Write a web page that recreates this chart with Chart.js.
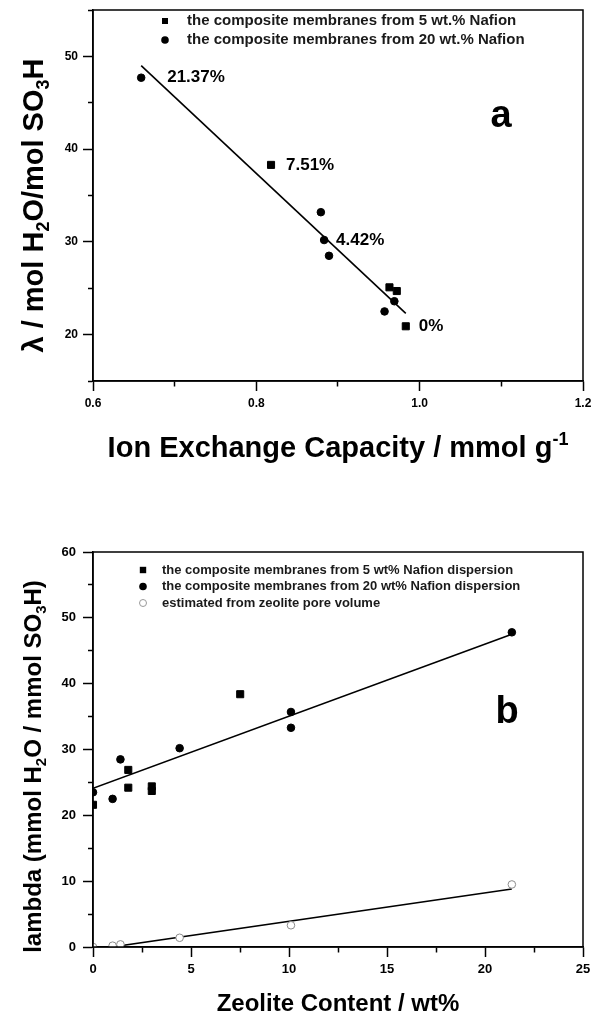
<!DOCTYPE html>
<html>
<head>
<meta charset="utf-8">
<script src="https://cdn.jsdelivr.net/npm/chart.js@4.4.1/dist/chart.umd.min.js"></script>
<style>
  html, body { margin: 0; padding: 0; background: #fff; }
  #wrap { position: relative; width: 603px; height: 1017px; }
  canvas { position: absolute; left: 0; }
  #chartA { top: 0; }
  #chartB { top: 490px; }
</style>
</head>
<body>
<div id="wrap">
  <canvas id="chartA" width="603" height="490"></canvas>
  <canvas id="chartB" width="603" height="527"></canvas>
</div>
<script>
// panel a: lambda against ion exchange capacity
const iec5 = [0.818, 0.963, 0.972, 0.983];
const lambdaIec5 = [38.3, 25.1, 24.7, 20.9];
const iec20 = [0.659, 0.879, 0.883, 0.889, 0.969, 0.957];
const lambdaIec20 = [47.7, 33.2, 30.2, 28.5, 23.6, 22.5];
const iecFit = [0.659, 0.983];
const lambdaIecFit = [49.0, 22.3];
const iecNotes = ['21.37%', '7.51%', '4.42%', '0%'];
const iecNoteX = [0.659, 0.818, 0.883, 0.983];
const iecNoteY = [47.7, 38.3, 30.2, 20.9];
const xTicksA = [0.6, 0.8, 1.0, 1.2];
const yTicksA = [20, 30, 40, 50];

// panel b: lambda against zeolite content
const zeo5 = [0, 1.8, 1.8, 3.0, 3.0, 7.51];
const lambdaZeo5 = [21.6, 26.9, 24.2, 24.4, 23.7, 38.4];
const zeo20 = [0, 1.0, 1.4, 4.42, 10.1, 10.1, 21.37];
const lambdaZeo20 = [23.5, 22.5, 28.5, 30.2, 35.7, 33.3, 47.8];
const zeoPore = [0, 1.0, 1.4, 4.42, 10.1, 21.37];
const lambdaPore = [0, 0.2, 0.4, 1.4, 3.3, 9.5];
const zeoFit = [0, 21.37];
const lambdaZeoFit = [24.1, 47.5];
const zeoPoreFit = [0.95, 21.37];
const lambdaPoreFit = [0, 8.8];
const xTicksB = [0, 5, 10, 15, 20, 25];
const yTicksB = [0, 10, 20, 30, 40, 50, 60];

const sans = '"Liberation Sans", Arial, Helvetica, sans-serif';
const pts = (xs, ys) => xs.map((v, i) => ({x: v, y: ys[i]}));
const near = (list, v) => list.some(t => Math.abs(t - v) < 1e-6);

function drawMarker(ctx, m, x, y) {
  ctx.save();
  ctx.beginPath();
  if (m.style === 'rect') ctx.rect(x - m.r, y - m.r, 2 * m.r, 2 * m.r);
  else ctx.arc(x, y, m.r, 0, Math.PI * 2);
  ctx.fillStyle = m.fill;
  ctx.fill();
  if (m.stroke) { ctx.strokeStyle = m.stroke; ctx.lineWidth = 1; ctx.stroke(); }
  ctx.restore();
}

// text with sub (1) and superscript (-1) parts, centred on x
function drawRich(ctx, parts, size, x, y, rot) {
  ctx.save();
  ctx.translate(x, y);
  ctx.rotate(rot);
  ctx.textAlign = 'left';
  ctx.textBaseline = 'alphabetic';
  ctx.fillStyle = '#000';
  const fonts = parts.map(p => `bold ${p[1] ? Math.round(size * 0.62) : size}px ${sans}`);
  const widths = parts.map((p, i) => { ctx.font = fonts[i]; return ctx.measureText(p[0]).width; });
  let cx = -widths.reduce((s, w) => s + w, 0) / 2;
  parts.forEach((p, i) => {
    ctx.font = fonts[i];
    ctx.fillText(p[0], cx, p[1] > 0 ? size * 0.22 : p[1] * size * 0.42);
    cx += widths[i];
  });
  ctx.restore();
}

function makeExtras(cfg) {
  return {
    id: 'extras',
    afterDraw(chart) {
      const {ctx, chartArea: a, scales: {x, y}} = chart;
      ctx.save();
      ctx.strokeStyle = '#000';
      ctx.lineWidth = 1.5;
      ctx.strokeRect(a.left, a.top, a.right - a.left, a.bottom - a.top);

      ctx.textAlign = 'left';
      ctx.textBaseline = 'middle';
      ctx.font = `bold ${cfg.legendFont}px ${sans}`;
      cfg.legend.forEach((item, i) => {
        const lx = a.left + cfg.legendX;
        const ly = a.top + cfg.legendY + i * cfg.legendGap;
        drawMarker(ctx, item, lx, ly);
        ctx.fillStyle = '#1a1a1a';
        ctx.fillText(item.text, lx + cfg.legendTextX, ly);
      });

      ctx.fillStyle = '#000';
      ctx.font = `bold ${cfg.noteFont}px ${sans}`;
      cfg.notes.forEach((n, i) => {
        ctx.fillText(n.text, x.getPixelForValue(n.x) + cfg.noteDx[i], y.getPixelForValue(n.y));
      });

      ctx.textAlign = 'center';
      ctx.textBaseline = 'alphabetic';
      ctx.font = `bold ${cfg.letterFont}px ${sans}`;
      ctx.fillText(cfg.letter, a.right + cfg.letterX, a.top + cfg.letterY);

      drawRich(ctx, cfg.xTitle, cfg.titleSize, (a.left + a.right) / 2, a.bottom + cfg.xTitleY, 0);
      drawRich(ctx, cfg.yTitle, cfg.titleSize, cfg.yTitleX, (a.top + a.bottom) / 2 + cfg.yTitleDy, -Math.PI / 2);
      ctx.restore();
    }
  };
}

function axis(min, max, step, labels, fmt, pad, size, isY, fitSize) {
  return {
    type: 'linear', min, max,
    ticks: {
      stepSize: step, padding: pad, color: '#000', autoSkip: false, maxRotation: 0,
      font: {family: sans, size, weight: 'bold'},
      callback: v => near(labels, v) ? fmt(v) : ''
    },
    grid: {
      drawOnChartArea: false, tickLength: 10, tickColor: '#000', tickWidth: 1.5,
      tickBorderDash: c => near(labels, c.tick.value) ? [] : (isY ? [0, 5, 5, 100] : [5, 100])
    },
    border: {color: '#000', width: 1.5},
    afterFit: s => {
      if (isY) s.width = fitSize; else s.height = fitSize;
      s.paddingLeft = 0; s.paddingRight = 0; s.paddingTop = 0; s.paddingBottom = 0;
    }
  };
}

function dots(data, style, r, fill, stroke, clip) {
  return {data, showLine: false, pointStyle: style, pointRadius: r,
    pointBackgroundColor: fill, pointBorderColor: stroke, pointBorderWidth: 1, clip};
}
function fitLine(data) {
  return {data, showLine: true, pointRadius: 0, borderColor: '#000', borderWidth: 1.6, fill: false};
}

new Chart(document.getElementById('chartA'), {
  type: 'scatter',
  data: {
    datasets: [
      dots(pts(iec5, lambdaIec5), 'rect', 5, '#000', '#000'),
      dots(pts(iec20, lambdaIec20), 'circle', 3.8, '#000', '#000'),
      fitLine(pts(iecFit, lambdaIecFit))
    ]
  },
  options: {
    responsive: false,
    animation: false,
    events: [],
    layout: {padding: {top: 10, right: 20, left: 0, bottom: 0}},
    scales: {
      x: axis(0.6, 1.2, 0.1, xTicksA, v => v.toFixed(1), 5, 12, false, 109),
      y: axis(15, 55, 5, yTicksA, v => String(v), 5, 12, true, 93)
    },
    plugins: {legend: {display: false}, tooltip: {enabled: false}}
  },
  plugins: [makeExtras({
    legend: [
      {text: 'the composite membranes from 5 wt.% Nafion', style: 'rect', r: 3, fill: '#000'},
      {text: 'the composite membranes from 20 wt.% Nafion', style: 'circle', r: 3.8, fill: '#000'}
    ],
    legendX: 72, legendY: 11, legendGap: 19, legendTextX: 22, legendFont: 15,
    notes: iecNotes.map((t, i) => ({text: t, x: iecNoteX[i], y: iecNoteY[i]})),
    noteDx: [26, 15, 12, 13], noteFont: 17,
    letter: 'a', letterX: -82, letterY: 117, letterFont: 38,
    titleSize: 29,
    xTitle: [['Ion Exchange Capacity / mmol g', 0], ['-1', -1]], xTitleY: 76,
    yTitle: [['λ / mol H', 0], ['2', 1], ['O/mol SO', 0], ['3', 1], ['H', 0]], yTitleX: 43, yTitleDy: 10
  })]
});

new Chart(document.getElementById('chartB'), {
  type: 'scatter',
  data: {
    datasets: [
      dots(pts(zeo5, lambdaZeo5), 'rect', 5, '#000', '#000', 0),
      dots(pts(zeo20, lambdaZeo20), 'circle', 3.8, '#000', '#000', 0),
      dots(pts(zeoPore, lambdaPore), 'circle', 3.8, '#fff', '#8c8c8c', 0),
      fitLine(pts(zeoFit, lambdaZeoFit)),
      fitLine(pts(zeoPoreFit, lambdaPoreFit))
    ]
  },
  options: {
    responsive: false,
    animation: false,
    events: [],
    layout: {padding: {top: 62, right: 20, left: 0, bottom: 0}},
    scales: {
      x: axis(0, 25, 2.5, xTicksB, v => String(v), 5, 13, false, 70),
      y: axis(0, 60, 5, yTicksB, v => String(v), 7, 13, true, 93)
    },
    plugins: {legend: {display: false}, tooltip: {enabled: false}}
  },
  plugins: [makeExtras({
    legend: [
      {text: 'the composite membranes from 5 wt% Nafion dispersion', style: 'rect', r: 3.2, fill: '#000'},
      {text: 'the composite membranes from 20 wt% Nafion dispersion', style: 'circle', r: 3.8, fill: '#000'},
      {text: 'estimated from zeolite pore volume', style: 'circle', r: 3.5, fill: '#fff', stroke: '#999'}
    ],
    legendX: 50, legendY: 18, legendGap: 16.5, legendTextX: 19, legendFont: 13,
    notes: [], noteDx: [], noteFont: 13,
    letter: 'b', letterX: -76, letterY: 171, letterFont: 38,
    titleSize: 24,
    xTitle: [['Zeolite Content / wt%', 0]], xTitleY: 64,
    yTitle: [['lambda (mmol H', 0], ['2', 1], ['O / mmol SO', 0], ['3', 1], ['H)', 0]], yTitleX: 41, yTitleDy: 17
  })]
});
</script>
</body>
</html>
